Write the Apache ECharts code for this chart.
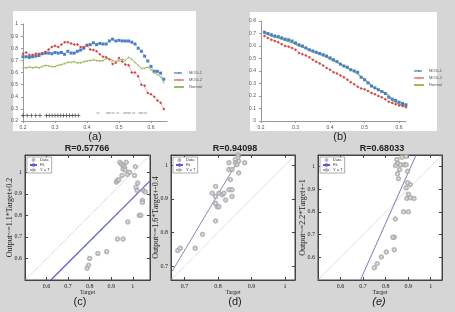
<!DOCTYPE html>
<html>
<head>
<meta charset="utf-8">
<script src="https://cdn.jsdelivr.net/npm/echarts@6/dist/echarts.min.js"></script>
<style>
  html, body { margin: 0; padding: 0; background: #d6d6d6; }
  #chart { width: 455px; height: 312px; }
</style>
</head>
<body>
<div id="chart"></div>
<script>
// ---- panel (a) ----
const aX = [0.20,0.21,0.22,0.23,0.24,0.25,0.26,0.27,0.28,0.29,0.30,0.31,0.32,0.33,0.34,0.35,0.36,0.37,0.38,0.39,0.40,0.41,0.42,0.43,0.44,0.45,0.46,0.47,0.48,0.49,0.50,0.51,0.52,0.53,0.54,0.55,0.56,0.57,0.58,0.59,0.60,0.61,0.62,0.63,0.64];
const aMod1 = [0.73,0.73,0.725,0.73,0.735,0.74,0.755,0.76,0.76,0.755,0.765,0.76,0.765,0.75,0.775,0.76,0.76,0.775,0.785,0.80,0.825,0.83,0.845,0.83,0.84,0.835,0.835,0.86,0.875,0.86,0.865,0.86,0.86,0.86,0.85,0.835,0.80,0.775,0.735,0.695,0.65,0.61,0.61,0.595,0.545];
const aMod2 = [0.755,0.765,0.745,0.745,0.755,0.755,0.755,0.77,0.79,0.81,0.82,0.81,0.83,0.85,0.85,0.84,0.83,0.83,0.81,0.81,0.825,0.79,0.785,0.775,0.75,0.73,0.725,0.71,0.67,0.68,0.72,0.69,0.665,0.66,0.60,0.60,0.57,0.50,0.49,0.43,0.42,0.40,0.37,0.35,0.30];
const aNormal = [0.64,0.64,0.645,0.64,0.645,0.64,0.65,0.66,0.655,0.65,0.65,0.66,0.665,0.675,0.685,0.685,0.69,0.68,0.68,0.69,0.695,0.70,0.705,0.70,0.695,0.70,0.715,0.71,0.70,0.69,0.70,0.71,0.70,0.725,0.71,0.685,0.66,0.635,0.635,0.645,0.625,0.60,0.585,0.565,0.52];
const aCrossX = [0.20,0.213,0.226,0.24,0.253,0.273,0.282,0.291,0.30,0.309,0.318,0.327,0.336,0.345,0.354,0.363,0.373];
const aCrossY = 0.245;
const aDashX = [0.434,0.464,0.47,0.481,0.496,0.517,0.525,0.533,0.546,0.565,0.572,0.583];
const aDashY = 0.266;

// ---- panel (b) ----
const bX = [0.21,0.22,0.23,0.24,0.25,0.26,0.27,0.28,0.29,0.30,0.31,0.32,0.33,0.34,0.35,0.36,0.37,0.38,0.39,0.40,0.41,0.42,0.43,0.44,0.45,0.46,0.47,0.48,0.49,0.50,0.51,0.52,0.53,0.54,0.55,0.56,0.57,0.58,0.59,0.60,0.61,0.62];
const bMod1 = [0.71,0.70,0.69,0.68,0.675,0.665,0.655,0.65,0.64,0.625,0.61,0.60,0.585,0.57,0.56,0.55,0.54,0.53,0.52,0.505,0.49,0.475,0.455,0.44,0.43,0.41,0.40,0.39,0.35,0.33,0.305,0.28,0.265,0.25,0.235,0.22,0.19,0.175,0.165,0.15,0.14,0.13];
const bMod2 = [0.68,0.665,0.65,0.64,0.63,0.615,0.60,0.595,0.585,0.57,0.545,0.535,0.525,0.51,0.49,0.475,0.46,0.445,0.425,0.41,0.39,0.38,0.365,0.35,0.33,0.31,0.295,0.275,0.26,0.255,0.24,0.225,0.215,0.20,0.19,0.175,0.155,0.145,0.135,0.125,0.12,0.11];
const bNormal = [0.70,0.69,0.68,0.67,0.665,0.655,0.645,0.635,0.625,0.615,0.60,0.59,0.58,0.565,0.555,0.545,0.535,0.52,0.51,0.495,0.48,0.47,0.455,0.44,0.425,0.41,0.395,0.375,0.355,0.335,0.31,0.285,0.265,0.25,0.24,0.225,0.205,0.165,0.15,0.135,0.125,0.115];

// ---- panel (c) ----
const cTarget = [0.788,0.795,0.80,0.838,0.879,0.929,0.955,0.977,1.03,1.038,1.045,1.045,1.05,1.058,1.015,1.02,1.023,1.008,1.012,0.924,0.929,0.935,0.94,0.947,0.955,0.962,0.97,0.95,0.955,0.965,0.975,0.985];
const cOutput = [0.554,0.569,0.60,0.623,0.631,0.69,0.69,0.769,0.80,0.80,0.87,0.86,0.915,0.908,0.93,0.915,0.95,0.985,1.026,0.954,0.962,0.965,1.046,1.038,1.031,1.023,1.046,0.985,1.015,1.01,0.99,1.0];
const cFit = [[0.62,0.5],[1.08,0.96]];
const cDiag = [[0.5,0.5],[1.08,1.08]];

// ---- panel (d) ----
const dTarget = [0.68,0.688,0.732,0.754,0.793,0.793,0.798,0.803,0.783,0.793,0.803,0.813,0.818,0.823,0.833,0.842,0.842,0.837,0.833,0.842,0.833,0.852,0.852,0.857,0.862,0.862,0.86,0.88,0.793];
const dOutput = [0.747,0.754,0.754,0.795,0.835,0.887,0.877,0.877,0.917,0.937,0.917,0.912,0.917,0.897,0.927,0.927,0.907,0.957,0.987,0.987,1.007,1.017,1.007,1.002,1.012,0.977,1.03,1.007,0.907];
const dFit = [[0.663,0.685],[0.87,1.03]];
const dDiag = [[0.66,0.66],[1.03,1.03]];

// ---- panel (e) ----
const eTarget = [0.75,0.762,0.781,0.803,0.838,0.838,0.832,0.843,0.879,0.901,0.894,0.901,0.909,0.926,0.909,0.891,0.897,0.857,0.853,0.862,0.897,0.844,0.853,0.865,0.882,0.891,0.872,0.891,0.85];
const eOutput = [0.554,0.572,0.601,0.623,0.633,0.688,0.688,0.768,0.80,0.80,0.859,0.877,0.862,0.859,0.92,0.906,0.928,0.946,0.967,0.986,0.978,1.004,1.014,1.007,1.007,1.007,1.04,1.043,1.03];
const eFit = [[0.688,0.5],[0.935,1.05]];
const eDiag = [[0.5,0.5],[1.05,1.05]];

const zip = (xs, ys) => xs.map((x, i) => [x, ys[i]]);
const serif = '"Liberation Serif", "DejaVu Serif", serif';
const sans = 'Arial, "Liberation Sans", sans-serif';

const chart = echarts.init(document.getElementById('chart'));

function lineAxisX(grid, min, max) {
  return {
    type: 'value', gridIndex: grid, min: min, max: max, interval: 0.1,
    axisLine: { lineStyle: { color: '#999' } },
    axisTick: { length: 2, lineStyle: { color: '#999' } },
    axisLabel: { fontSize: 5, color: '#555', margin: 4, showMaxLabel: false },
    splitLine: { show: false }
  };
}
function lineAxisY(grid, min, max) {
  return {
    type: 'value', gridIndex: grid, min: min, max: max, interval: 0.1,
    axisLine: { show: true, lineStyle: { color: '#999' } },
    axisTick: { show: true, length: 2, lineStyle: { color: '#999' } },
    axisLabel: { fontSize: 5, color: '#555', margin: 5 },
    splitLine: { show: false }
  };
}
function boxX(grid, min, max, top) {
  return {
    type: 'value', gridIndex: grid, min: min, max: max,
    position: top ? 'top' : 'bottom',
    name: top ? '' : 'Target', nameLocation: 'middle', nameGap: 8,
    nameTextStyle: { fontFamily: serif, fontSize: 6, color: '#222' },
    axisLine: { lineStyle: { color: '#444' } },
    axisTick: { inside: true, length: 3, lineStyle: { color: '#444' } },
    axisLabel: { show: !top, fontFamily: serif, fontSize: 6, color: '#222', margin: 3,
                 showMinLabel: false, showMaxLabel: false },
    splitLine: { show: false }
  };
}
function boxY(grid, min, max, name, right) {
  return {
    type: 'value', gridIndex: grid, min: min, max: max,
    position: right ? 'right' : 'left',
    name: right ? '' : name, nameLocation: 'middle', nameRotate: 90, nameGap: 11,
    nameMoveOverlap: false,
    nameTextStyle: { fontFamily: serif, fontSize: 8, color: '#222' },
    axisLine: { show: true, lineStyle: { color: '#444' } },
    axisTick: { show: true, inside: true, length: 3, lineStyle: { color: '#444' } },
    axisLabel: { show: !right, fontFamily: serif, fontSize: 6, color: '#222', margin: 3,
                 showMinLabel: false, showMaxLabel: false },
    splitLine: { show: false }
  };
}

const dataStyle = {
  type: 'scatter', name: 'Data', symbol: 'emptyCircle', symbolSize: 3.5,
  itemStyle: { color: '#a8a8a8', borderWidth: 0.6 }, z: 3
};
const diagStyle = {
  type: 'line', name: 'Y = T', showSymbol: false, silent: true,
  lineStyle: { color: '#b0b0b0', width: 0.8, type: 'dotted' }, itemStyle: { color: '#b0b0b0' }
};
function fitStyle(color, width) {
  return { type: 'line', name: 'Fit', showSymbol: false, lineStyle: { color: color, width: width }, itemStyle: { color: color } };
}
function boxLegend(left) {
  return {
    left: left, top: 157, orient: 'vertical',
    data: [{ name: 'Data', icon: 'emptyCircle' }, 'Fit', 'Y = T'],
    backgroundColor: '#fff', borderColor: '#777', borderWidth: 0.6, padding: [1, 2],
    itemWidth: 7, itemHeight: 2, itemGap: 1,
    textStyle: { fontSize: 4, color: '#333', fontFamily: sans, padding: [0, 0, 0, -2] }
  };
}
function lineLegend(left, top) {
  return {
    left: left, top: top, orient: 'vertical', data: ['MOD-1', 'MOD-2', 'Normal'],
    itemWidth: 10, itemHeight: 2, itemGap: 3,
    textStyle: { fontSize: 4, color: '#555', fontFamily: sans }
  };
}

const option = {
  backgroundColor: '#d6d6d6',
  animation: false,
  graphic: [
    { type: 'rect', z: -10, shape: { x: 13, y: 11, width: 183, height: 120 }, style: { fill: '#fff' } },
    { type: 'rect', z: -10, shape: { x: 250, y: 12, width: 187, height: 119 }, style: { fill: '#fff' } },
    { type: 'text', style: { text: '(a)', x: 95, y: 137, align: 'center', verticalAlign: 'middle', font: '11px ' + sans, fill: '#222' } },
    { type: 'text', style: { text: '(b)', x: 340, y: 137, align: 'center', verticalAlign: 'middle', font: '11px ' + sans, fill: '#222' } },
    { type: 'text', style: { text: 'R=0.57766', x: 87, y: 149, align: 'center', verticalAlign: 'middle', font: 'bold 9px ' + sans, fill: '#222' } },
    { type: 'text', style: { text: 'R=0.94098', x: 235, y: 149, align: 'center', verticalAlign: 'middle', font: 'bold 9px ' + sans, fill: '#222' } },
    { type: 'text', style: { text: 'R=0.68033', x: 382, y: 149, align: 'center', verticalAlign: 'middle', font: 'bold 9px ' + sans, fill: '#222' } },
    { type: 'text', style: { text: '(c)', x: 80, y: 302, align: 'center', verticalAlign: 'middle', font: '11px ' + sans, fill: '#222' } },
    { type: 'text', style: { text: '(d)', x: 235, y: 302, align: 'center', verticalAlign: 'middle', font: '11px ' + sans, fill: '#222' } },
    { type: 'text', style: { text: '(e)', x: 379, y: 302, align: 'center', verticalAlign: 'middle', font: 'italic 11px ' + sans, fill: '#222' } }
  ],
  legend: [lineLegend(168, 66), lineLegend(408, 64), boxLegend(27), boxLegend(173), boxLegend(320)],
  grid: [
    { left: 23, right: 288, top: 24, bottom: 191 },
    { left: 261, right: 49, top: 21, bottom: 191 },
    { left: 25, right: 305, top: 155, bottom: 32, show: true, backgroundColor: '#fff', borderColor: '#444', borderWidth: 1 },
    { left: 171, right: 160, top: 155, bottom: 32, show: true, backgroundColor: '#fff', borderColor: '#444', borderWidth: 1 },
    { left: 318, right: 13, top: 155, bottom: 32, show: true, backgroundColor: '#fff', borderColor: '#444', borderWidth: 1 }
  ],
  xAxis: [
    lineAxisX(0, 0.2, 0.65),
    lineAxisX(1, 0.2, 0.62),
    boxX(2, 0.5, 1.08), boxX(3, 0.66, 1.03), boxX(4, 0.5, 1.05),
    boxX(2, 0.5, 1.08, true), boxX(3, 0.66, 1.03, true), boxX(4, 0.5, 1.05, true)
  ],
  yAxis: [
    lineAxisY(0, 0.2, 1.0),
    lineAxisY(1, 0, 0.8),
    boxY(2, 0.5, 1.08, 'Output~=1.1*Target+0.2'),
    boxY(3, 0.66, 1.03, 'Output~=1.6*Target+-0.4'),
    boxY(4, 0.5, 1.05, 'Output~=2.2*Target+-1'),
    boxY(2, 0.5, 1.08, '', true), boxY(3, 0.66, 1.03, '', true), boxY(4, 0.5, 1.05, '', true)
  ],
  series: [
    // (a)
    { type: 'line', name: 'MOD-1', xAxisIndex: 0, yAxisIndex: 0, data: zip(aX, aMod1),
      symbol: 'rect', symbolSize: 3, lineStyle: { color: '#8fb0d8', width: 0.7, type: 'dashed' }, itemStyle: { color: '#4a7fc8' } },
    { type: 'line', name: 'MOD-2', xAxisIndex: 0, yAxisIndex: 0, data: zip(aX, aMod2),
      symbol: 'diamond', symbolSize: 3, lineStyle: { color: '#e89a9a', width: 0.7 }, itemStyle: { color: '#d04545' } },
    { type: 'line', name: 'Normal', xAxisIndex: 0, yAxisIndex: 0, data: zip(aX, aNormal),
      symbol: 'triangle', symbolSize: 2, lineStyle: { color: '#9bbb59', width: 1 }, itemStyle: { color: '#9bbb59' } },
    { type: 'scatter', name: 'cross', xAxisIndex: 0, yAxisIndex: 0, data: aCrossX.map(x => [x, aCrossY]),
      symbol: 'path://M4,0h2v4h4v2h-4v4h-2v-4h-4v-2h4z', symbolSize: 4, itemStyle: { color: '#222' } },
    { type: 'scatter', name: 'dash', xAxisIndex: 0, yAxisIndex: 0, data: aDashX.map(x => [x, aDashY]),
      symbol: 'rect', symbolSize: [3, 1], itemStyle: { color: '#888' } },
    // (b)
    { type: 'line', name: 'MOD-1', xAxisIndex: 1, yAxisIndex: 1, data: zip(bX, bMod1),
      symbol: 'rect', symbolSize: 3, lineStyle: { color: '#8fb0d8', width: 0.7 }, itemStyle: { color: '#4a7fc8' } },
    { type: 'line', name: 'MOD-2', xAxisIndex: 1, yAxisIndex: 1, data: zip(bX, bMod2),
      symbol: 'diamond', symbolSize: 3, lineStyle: { color: '#e89a9a', width: 0.7 }, itemStyle: { color: '#d04545' } },
    { type: 'line', name: 'Normal', xAxisIndex: 1, yAxisIndex: 1, data: zip(bX, bNormal),
      symbol: 'none', lineStyle: { color: '#8db050', width: 1.2 }, itemStyle: { color: '#8db050' } },
    // (c)
    Object.assign({ xAxisIndex: 2, yAxisIndex: 2, data: cDiag }, diagStyle),
    Object.assign({ xAxisIndex: 2, yAxisIndex: 2, data: cFit }, fitStyle('#5b5bd0', 1.2)),
    Object.assign({ xAxisIndex: 2, yAxisIndex: 2, data: zip(cTarget, cOutput) }, dataStyle),
    // (d)
    Object.assign({ xAxisIndex: 3, yAxisIndex: 3, data: dDiag }, diagStyle),
    Object.assign({ xAxisIndex: 3, yAxisIndex: 3, data: dFit }, fitStyle('#6a6aa8', 0.8)),
    Object.assign({ xAxisIndex: 3, yAxisIndex: 3, data: zip(dTarget, dOutput) }, dataStyle),
    // (e)
    Object.assign({ xAxisIndex: 4, yAxisIndex: 4, data: eDiag }, diagStyle),
    Object.assign({ xAxisIndex: 4, yAxisIndex: 4, data: eFit }, fitStyle('#6a6ab8', 0.9)),
    Object.assign({ xAxisIndex: 4, yAxisIndex: 4, data: zip(eTarget, eOutput) }, dataStyle)
  ]
};

chart.setOption(option);
</script>
</body>
</html>
